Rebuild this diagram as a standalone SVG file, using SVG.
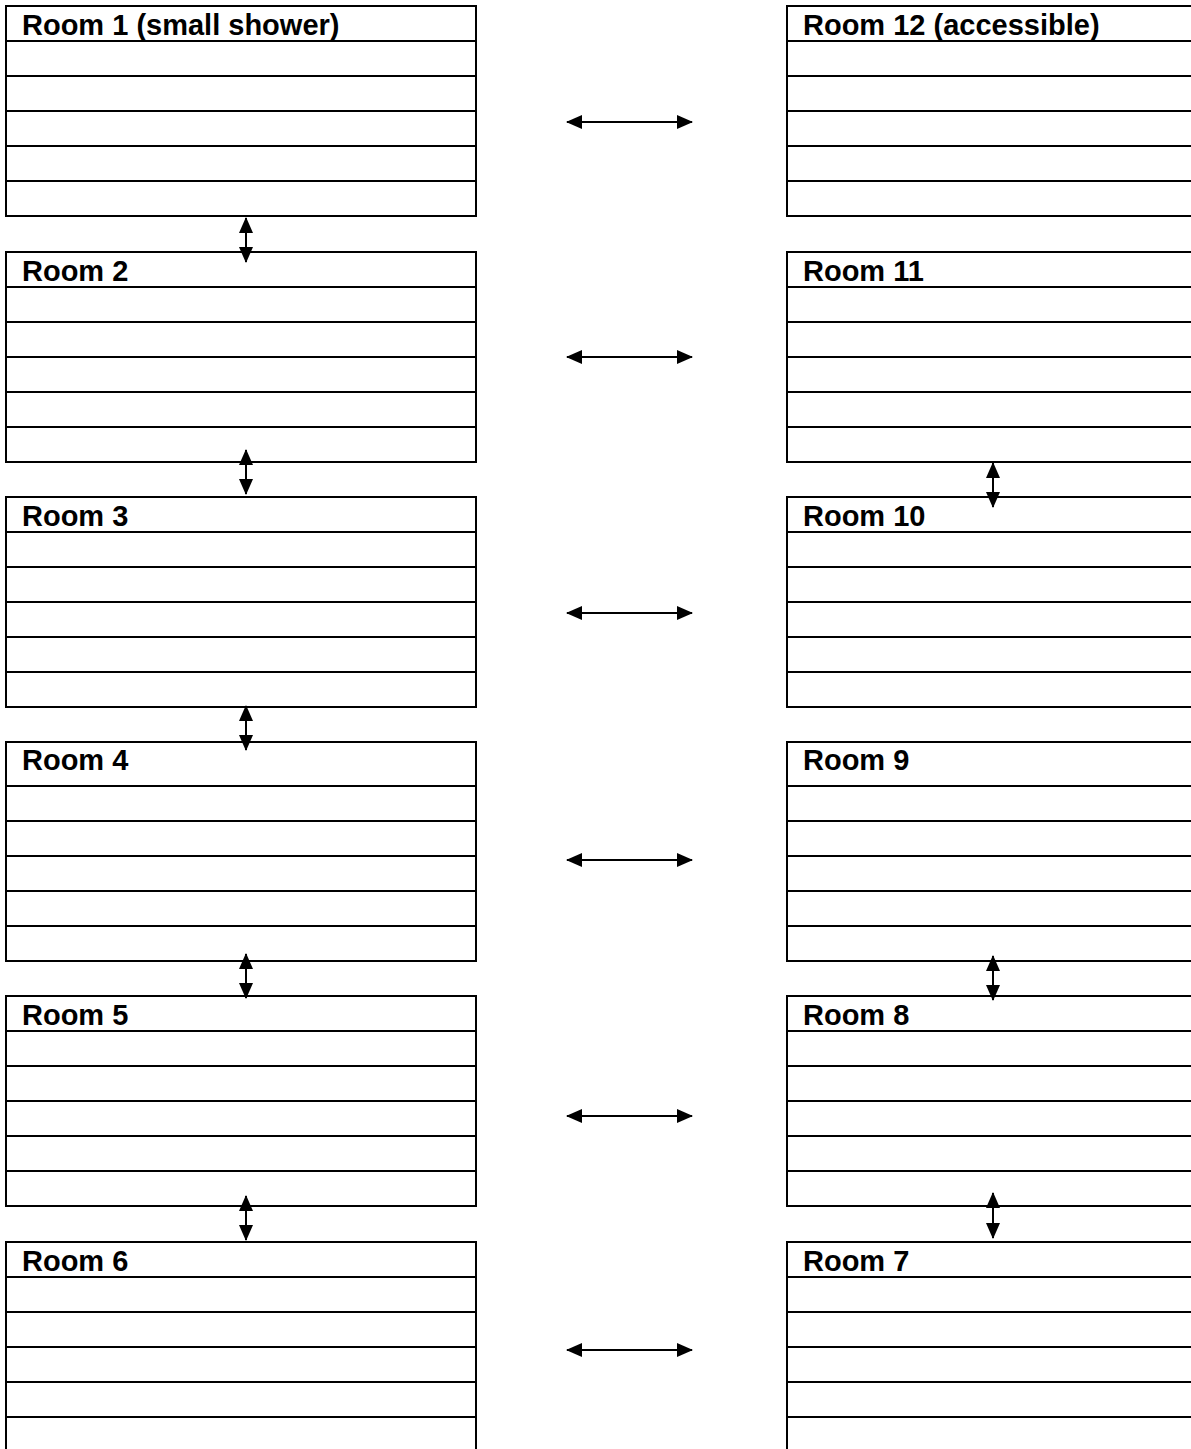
<svg xmlns="http://www.w3.org/2000/svg" width="1191" height="1449" viewBox="0 0 1191 1449">
<style>
.box{fill:#fff;stroke:#000;stroke-width:2}
.row{stroke:#000;stroke-width:2}
.lbl{font-family:"Liberation Sans",Arial,sans-serif;font-weight:bold;font-size:29px;fill:#000}
.conn{stroke:#000;stroke-width:2;fill:none;marker-start:url(#ah);marker-end:url(#ah)}
</style>
<defs>
<marker id="ah" viewBox="0 0 16 14" refX="15" refY="7" markerWidth="16" markerHeight="14" markerUnits="userSpaceOnUse" orient="auto-start-reverse"><path d="M0,0 L16,7 L0,14 z" fill="#000"/></marker>
<g id="rowsL"><line class="row" x1="6" y1="35" x2="476" y2="35"/><line class="row" x1="6" y1="70" x2="476" y2="70"/><line class="row" x1="6" y1="105" x2="476" y2="105"/><line class="row" x1="6" y1="140" x2="476" y2="140"/><line class="row" x1="6" y1="175" x2="476" y2="175"/></g>
<g id="rowsR"><line class="row" x1="787" y1="35" x2="1195" y2="35"/><line class="row" x1="787" y1="70" x2="1195" y2="70"/><line class="row" x1="787" y1="105" x2="1195" y2="105"/><line class="row" x1="787" y1="140" x2="1195" y2="140"/><line class="row" x1="787" y1="175" x2="1195" y2="175"/></g>
</defs>
<rect width="1191" height="1449" fill="#fff"/>
<g id="room1" transform="translate(0,6)"><rect class="box" x="6" y="0" width="470" height="210"/><use href="#rowsL"/><text class="lbl" x="22" y="29">Room 1 (small shower)</text></g>
<g id="room2" transform="translate(0,252)"><rect class="box" x="6" y="0" width="470" height="210"/><use href="#rowsL"/><text class="lbl" x="22" y="29">Room 2</text></g>
<g id="room3" transform="translate(0,497)"><rect class="box" x="6" y="0" width="470" height="210"/><use href="#rowsL"/><text class="lbl" x="22" y="29">Room 3</text></g>
<g id="room4" transform="translate(0,751)"><rect class="box" x="6" y="-9" width="470" height="219"/><use href="#rowsL"/><text class="lbl" x="22" y="19">Room 4</text></g>
<g id="room5" transform="translate(0,996)"><rect class="box" x="6" y="0" width="470" height="210"/><use href="#rowsL"/><text class="lbl" x="22" y="29">Room 5</text></g>
<g id="room6" transform="translate(0,1242)"><rect class="box" x="6" y="0" width="470" height="210"/><use href="#rowsL"/><text class="lbl" x="22" y="29">Room 6</text></g>
<g id="room12" transform="translate(0,6)"><rect class="box" x="787" y="0" width="410" height="210"/><use href="#rowsR"/><text class="lbl" x="803" y="29">Room 12 (accessible)</text></g>
<g id="room11" transform="translate(0,252)"><rect class="box" x="787" y="0" width="410" height="210"/><use href="#rowsR"/><text class="lbl" x="803" y="29">Room 11</text></g>
<g id="room10" transform="translate(0,497)"><rect class="box" x="787" y="0" width="410" height="210"/><use href="#rowsR"/><text class="lbl" x="803" y="29">Room 10</text></g>
<g id="room9" transform="translate(0,751)"><rect class="box" x="787" y="-9" width="410" height="219"/><use href="#rowsR"/><text class="lbl" x="803" y="19">Room 9</text></g>
<g id="room8" transform="translate(0,996)"><rect class="box" x="787" y="0" width="410" height="210"/><use href="#rowsR"/><text class="lbl" x="803" y="29">Room 8</text></g>
<g id="room7" transform="translate(0,1242)"><rect class="box" x="787" y="0" width="410" height="210"/><use href="#rowsR"/><text class="lbl" x="803" y="29">Room 7</text></g>
<g id="connectors">
<line class="conn" x1="567" y1="122" x2="692" y2="122"/>
<line class="conn" x1="567" y1="357" x2="692" y2="357"/>
<line class="conn" x1="567" y1="613" x2="692" y2="613"/>
<line class="conn" x1="567" y1="860" x2="692" y2="860"/>
<line class="conn" x1="567" y1="1116" x2="692" y2="1116"/>
<line class="conn" x1="567" y1="1350" x2="692" y2="1350"/>
<line class="conn" x1="246" y1="218" x2="246" y2="262"/>
<line class="conn" x1="246" y1="450" x2="246" y2="494"/>
<line class="conn" x1="246" y1="706" x2="246" y2="750"/>
<line class="conn" x1="246" y1="954" x2="246" y2="998"/>
<line class="conn" x1="246" y1="1196" x2="246" y2="1240"/>
<line class="conn" x1="993" y1="463" x2="993" y2="507"/>
<line class="conn" x1="993" y1="956" x2="993" y2="1000"/>
<line class="conn" x1="993" y1="1193" x2="993" y2="1238"/>
</g>
</svg>
